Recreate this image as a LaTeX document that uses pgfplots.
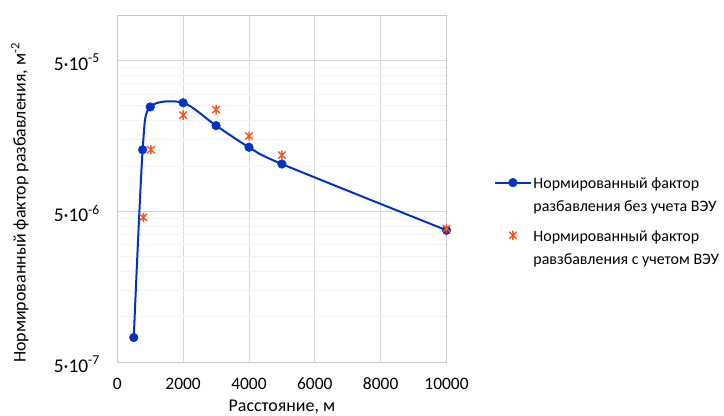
\documentclass[border=0pt]{standalone}
\usepackage{fontspec}
\setmainfont{Carlito}
\usepackage{pgfplots}
\pgfplotsset{compat=1.18}
\definecolor{lblue}{RGB}{0,50,196}
\definecolor{lorange}{RGB}{255,85,20}
\definecolor{gridc}{RGB}{217,217,217}
\definecolor{mgridc}{RGB}{242,242,242}
\definecolor{axc}{RGB}{200,200,200}
\pgfdeclareplotmark{xstar}{%
  \pgfpathmoveto{\pgfqpoint{0pt}{\pgfplotmarksize}}%
  \pgfpathlineto{\pgfqpoint{0pt}{-\pgfplotmarksize}}%
  \pgfpathmoveto{\pgfqpoint{-0.8\pgfplotmarksize}{0.75\pgfplotmarksize}}%
  \pgfpathlineto{\pgfqpoint{0.8\pgfplotmarksize}{-0.75\pgfplotmarksize}}%
  \pgfpathmoveto{\pgfqpoint{-0.8\pgfplotmarksize}{-0.75\pgfplotmarksize}}%
  \pgfpathlineto{\pgfqpoint{0.8\pgfplotmarksize}{0.75\pgfplotmarksize}}%
  \pgfusepathqstroke}
\pgfplotsset{
  mylineleg/.style={legend image code/.code={\draw[mark repeat=2,mark phase=2,##1] plot coordinates {(0bp,0bp) (17.5bp,0bp) (35bp,0bp)};}},
  mymarkleg/.style={legend image code/.code={\draw[##1] plot coordinates {(17.5bp,0bp)};}},
}
\begin{document}
\begin{tikzpicture}
\begin{axis}[
  at={(117.3bp,53.7bp)}, anchor=south west,
  scale only axis, width=329.2bp, height=347.3bp,
  xmin=0, xmax=10000, ymode=log, ymin=5e-7, ymax=1e-4,
  xtick={0,2000,4000,6000,8000,10000},
  scaled x ticks=false,
  xticklabels={0,2000,4000,6000,8000,10000},
  ytick={5e-7,5e-6,5e-5},
  yticklabels={5·10\textsuperscript{-7},5·10\textsuperscript{-6},5·10\textsuperscript{-5}},
  minor ytick={1e-6,1.5e-6,2e-6,2.5e-6,3e-6,3.5e-6,4e-6,4.5e-6,1e-5,1.5e-5,2e-5,2.5e-5,3e-5,3.5e-5,4e-5,4.5e-5},
  grid=both,
  major grid style={draw=gridc, line width=0.8bp},
  minor grid style={draw=mgridc, line width=0.8bp},
  axis line style={draw=axc, line width=0.8bp},
  major tick length=0pt, minor tick length=0pt,
  xticklabel style={font=\fontsize{17.5}{20}\selectfont, anchor=north, yshift=-12bp},
  yticklabel style={font=\fontsize{19.5}{22}\selectfont, anchor=east, xshift=-14bp, yshift=-2bp},
  xlabel={Расстояние, м},
  xlabel style={font=\fontsize{18}{20}\selectfont, at={(axis description cs:0.5,0)}, anchor=base, yshift=-49bp},
  ylabel={Нормированный фактор разбавления, м\textsuperscript{-2}},
  ylabel style={font=\fontsize{18}{20}\selectfont, at={(axis description cs:-0.2956,0.459)}, anchor=center},
  legend style={draw=none, fill=none, at={(axis description cs:1.145,0.545)}, anchor=north west,
    font=\fontsize{16}{19}\selectfont, row sep=34bp, inner sep=0pt},
  legend cell align=left,
  clip=false,
]
\addplot[lblue, line width=2bp, smooth, mark=*, mark size=4.3bp, mark options={fill=lblue, draw=lblue, line width=0.5bp}, mylineleg]
coordinates {
(500,7.3e-7) (770,1.28e-5) (1000,2.46e-5) (2000,2.62e-5) (3000,1.85e-5) (4000,1.33e-5) (5000,1.03e-5) (10000,3.75e-6)
};
\addlegendentry{\begin{tabular}[t]{@{}l@{}}Нормированный фактор\\[4bp]разбавления без учета ВЭУ\end{tabular}}
\addplot[only marks, mark=xstar, mark size=4.7bp, mark options={draw=lorange, line width=1.4bp}, mymarkleg]
coordinates {
(790,4.56e-6) (1020,1.28e-5) (2000,2.17e-5) (3000,2.36e-5) (4000,1.58e-5) (5000,1.18e-5) (10000,3.85e-6)
};
\addlegendentry{\begin{tabular}[t]{@{}l@{}}Нормированный фактор\\[4bp]равзбавления с учетом ВЭУ\end{tabular}}
\end{axis}
\pgfresetboundingbox
\useasboundingbox (0,0) rectangle (724bp,416bp);
\end{tikzpicture}
\end{document}
